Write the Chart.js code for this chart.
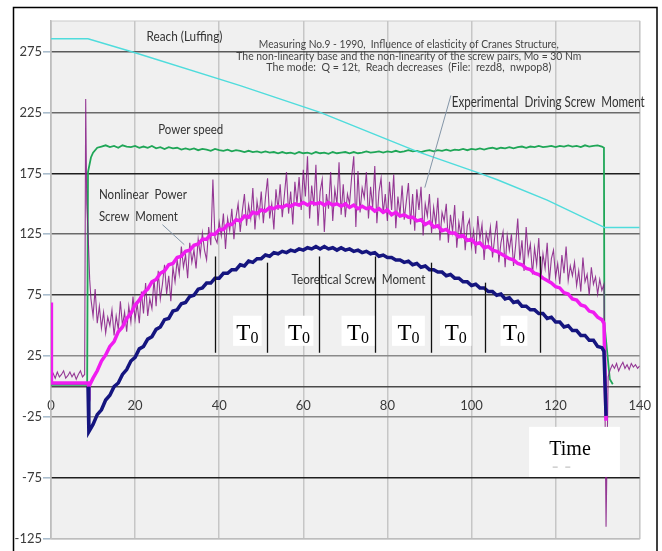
<!DOCTYPE html>
<html>
<head>
<meta charset="utf-8">
<script src="https://cdn.jsdelivr.net/npm/chart.js@4.4.1/dist/chart.umd.min.js"></script>
<style>
  html, body { margin: 0; padding: 0; background: #fff; }
  canvas { display: block; }
</style>
</head>
<body>
<canvas id="c" width="662" height="551"></canvas>
<script>
// Measuring No.9 - 1990 : reach, power speed and screw moments vs time

const xTicks = [0, 20, 40, 60, 80, 100, 120, 140];
const yTicks = [-125, -75, -25, 25, 75, 125, 175, 225, 275];

// Reach (Luffing)
const reachX = [0, 8.8, 20, 45, 64, 87, 102, 106, 118, 131.7, 140];
const reachY = [285.5, 285.5, 274, 247, 225, 193, 175, 170, 153, 130.5, 130.5];

// Power speed
const speedHeadX = [0, 8.6, 8.8, 9.5, 10, 11];
const speedHeadY = [1.5, 1.5, 176, 188, 192, 196];
const speedStart = 12;
const speedMain = [
  197, 198, 196.5, 197.5, 196, 198, 197, 196.5, 197.5, 196,
  197, 196, 197.5, 195.5, 196.5, 195, 196.5, 195.5, 196, 194.5,
  195.5, 194.5, 195.5, 194, 195, 194.5, 193.5, 195, 194, 193.5,
  194.5, 193, 194, 193.5, 192.5, 193.5, 192.5, 193, 192, 193,
  192, 192.5, 191.5, 192.5, 191.5, 192, 191, 192.5, 191.5, 192,
  191, 192.5, 191.5, 192, 191, 192.5, 191.5, 192, 192.5, 191.5,
  192.5, 191.5, 192, 193, 192, 192.5, 193, 192, 193, 192.5,
  193.5, 192.5, 193, 194, 193, 193.5, 192.5, 193.5, 194, 193,
  194, 193.5, 194.5, 193.5, 194.5, 194, 195, 194, 195, 194.5,
  195.5, 194.5, 195.5, 196, 195, 196, 195.5, 196.5, 195.5, 196.5,
  197, 196, 197, 196.5, 197.5, 196.5, 197, 197.5, 196.5, 197.5,
  197, 198, 197, 197.5, 196.5, 198, 197, 197.5, 198, 197,
];
const speedTailX = [131.5, 131.6, 132.9, 133.6];
const speedTailY = [196, 52, 6, 2];

// Experimental Driving Screw Moment
const expBase = [9, 11, 7, 12, 8, 10, 13, 7, 9, 12, 8, 11, 6, 10, 13, 8, 10];
const expSpikeX = [8.25, 8.5, 8.8, 9.2];
const expSpikeY = [236, 150, 128, 88];
const expStart = 9.5;
const expMain = [
  72, 58, 80, 52, 66, 48, 61, 44, 57, 50,
  63, 42, 58, 47, 70, 50, 61, 45, 66, 53,
  74, 55, 68, 52, 78, 60, 85, 58, 72, 64,
  88, 66, 95, 72, 84, 100, 76, 91, 70, 98,
  86, 104, 92, 115, 98, 108, 89, 118, 102, 112,
  97, 121, 108, 126, 112, 104, 131, 116, 170, 122,
  118, 135, 124, 142, 113, 138, 128, 146, 121, 139,
  150, 127, 144, 158, 132, 149, 138, 163, 129, 152,
  140, 160, 134, 155, 171, 138, 150, 129, 162, 145,
  166, 139, 157, 176, 142, 160, 133, 168, 150, 172,
  145, 178, 156, 189, 138, 165, 148, 182, 132, 160,
  170, 127, 158, 146, 176, 136, 162, 150, 184, 141,
  166, 139, 158, 150, 172, 189, 131, 177, 143, 163,
  155, 176, 138, 164, 147, 181, 134, 160, 171, 142,
  158, 136, 168, 145, 174, 130, 156, 141, 165, 137,
  152, 167, 133, 158, 128, 162, 145, 164, 124, 150,
  140, 158, 126, 147, 133, 155, 120, 143, 136, 150,
  118, 141, 127, 149, 114, 135, 124, 144, 112, 132,
  137, 115, 128, 109, 140, 121, 133, 104, 126, 118,
  131, 106, 122, 136, 102, 118, 127, 98, 124, 112,
  125, 99, 116, 138, 104, 120, 95, 131, 108, 117,
  92, 114, 100, 122, 88, 109, 97, 118, 86, 105,
  112, 90, 101, 84, 108, 93, 115, 87, 99, 91,
  102, 83, 95, 78, 106, 86, 92, 75, 98, 84,
  90, 76, 88, 79, 84,
];
const expDropX = [132, 132.5];
const expDropY = [-115, 8];
const expTailStart = 133;
const expTail = [14, 18, 15, 19, 13, 17, 20, 15, 18, 14, 19, 16, 18, 15, 17];

// Nonlinear Power Screw Moment
const nlHeadX = [0, 0.1, 8.8];
const nlHeadY = [69, 3, 3];
const nlStart = 9;
const nlMain = [
  0, 7, 13, 21, 26, 33, 37, 45, 49, 56,
  60, 67, 71, 77, 80, 86, 88, 93, 95, 100,
  101, 106, 107, 111, 112, 116, 117, 121, 121, 125,
  125, 129, 129, 133, 133, 137, 136, 140, 139, 143,
  142, 145, 144, 147, 146, 148, 147, 149, 148, 150,
  149, 151, 149, 151, 150, 151, 149, 151, 149, 150,
  148, 150, 147, 149, 146, 148, 146, 147, 144, 146,
  143, 145, 141, 143, 140, 141, 139, 139, 136, 137,
  133, 135, 131, 132, 128, 129, 126, 126, 123, 124,
  120, 121, 117, 118, 114, 115, 112, 111, 109, 107,
  105, 104, 101, 100, 97, 96, 93, 92, 89, 87,
  85, 82, 81, 77, 76, 72, 71, 67, 66, 62,
  61, 57, 55,
];
const nlTailX = [131.5, 132];
const nlTailY = [52, -28];

// Teoretical Screw Moment
const thHeadX = [8.8];
const thHeadY = [0];
const thStart = 9;
const thMain = [
  -37, -31, -23, -19, -11, -7, 0, 3, 10, 14,
  21, 24, 31, 33, 39, 41, 47, 49, 55, 56,
  62, 63, 68, 69, 74, 75, 80, 81, 85, 85,
  89, 89, 93, 93, 96, 96, 100, 99, 103, 102,
  105, 105, 108, 107, 110, 109, 111, 110, 112, 111,
  113, 112, 114, 113, 115, 113, 115, 113, 114, 112,
  114, 112, 113, 111, 112, 110, 111, 109, 110, 107,
  108, 106, 106, 104, 104, 102, 103, 100, 101, 98,
  99, 96, 96, 94, 94, 91, 92, 89, 89, 86,
  86, 83, 84, 81, 81, 78, 78, 75, 76, 72,
  73, 69, 70, 66, 66, 63, 63, 60, 60, 56,
  57, 53, 53, 49, 50, 46, 46, 42, 42, 38,
  38, 33, 32,
];
const thTailX = [131.5, 132];
const thTailY = [29, -24];

// T0 marks
const t0LineX = [39.0, 51.3, 63.8, 77.1, 90.3, 103.3, 116.3];
const t0LineTop = [106.8, 101.7, 106.8, 106.8, 101.7, 85.3, 106.8];
const t0LineBottom = 27.8;
const t0BoxFrom = [43.3, 55.6, 69.1, 81.1, 92.5, 106.9];
const t0BoxTo = [50.1, 62.4, 76.9, 88.9, 100.0, 113.3];

const pts = (xs, ys) => xs.map((x, i) => ({ x, y: ys[i] }));
const stepPts = (x0, dx, ys) => ys.map((y, i) => ({ x: x0 + i * dx, y }));

const reachData = pts(reachX, reachY);
const speedData = [...pts(speedHeadX, speedHeadY), ...stepPts(speedStart, 1, speedMain), ...pts(speedTailX, speedTailY)];
const expData = [
  ...stepPts(0, 0.5, expBase),
  ...pts(expSpikeX, expSpikeY),
  ...stepPts(expStart, 0.5, expMain),
  ...pts(expDropX, expDropY),
  ...stepPts(expTailStart, 0.5, expTail),
];
const nlData = [...pts(nlHeadX, nlHeadY), ...stepPts(nlStart, 1, nlMain), ...pts(nlTailX, nlTailY)];
const thData = [...pts(thHeadX, thHeadY), ...stepPts(thStart, 1, thMain), ...pts(thTailX, thTailY)];

const gridTone = {
  275: '#5a5a5a', 225: '#6a6a6a', 175: '#1e1e1e', 125: '#6a6a6a', 75: '#3a3a3a',
  25: '#8a8a8a', '-25': '#8a8a8a', '-75': '#1e1e1e', '-125': '#bdbdbd',
};

const SANS = '"Lato", "Liberation Sans", sans-serif';
const SERIF = '"Liberation Serif", "DejaVu Serif", serif';

const notes = [
  { text: 'Reach (Luffing)', x: 22.7, y: 284, size: 14, w: 76 },
  { text: 'Measuring No.9 - 1990,  Influence of elasticity of Cranes Structure,', x: 85.1, y: 277.5, size: 11, w: 300, align: 'center', color: '#444' },
  { text: 'The non-linearity base and the non-linearity of the screw pairs, Mo = 30 Nm', x: 85.1, y: 268.3, size: 11, w: 345, align: 'center', color: '#444' },
  { text: 'The mode:  Q = 12t,  Reach decreases  (File:  rezd8,  nwpop8)', x: 85.1, y: 259.3, size: 11, w: 285, align: 'center', color: '#444' },
  { text: 'Experimental  Driving Screw  Moment', x: 95.3, y: 229.8, size: 16, w: 193 },
  { text: 'Power speed', x: 25.5, y: 207.6, size: 14, w: 65 },
  { text: 'Nonlinear  Power', x: 11.4, y: 154.3, size: 14, w: 88 },
  { text: 'Screw  Moment', x: 11.4, y: 136.2, size: 14, w: 79 },
  { text: 'Teoretical Screw  Moment', x: 57.2, y: 84.4, size: 14, w: 134 },
];
const leaders = [
  [26.5, 132.9, 31.7, 116.5],
  [95.1, 238.9, 88.9, 163.3],
];

const backdrop = {
  id: 'backdrop',
  beforeDraw(chart) {
    const { ctx, chartArea: a, width, height } = chart;
    ctx.save();
    ctx.fillStyle = '#fff';
    ctx.fillRect(0, 0, width, height);
    ctx.strokeStyle = '#000';
    ctx.lineWidth = 1.5;
    ctx.strokeRect(13.5, 7.5, 643.5, 600);
    ctx.fillStyle = '#f0f0f0';
    ctx.fillRect(a.left, a.top, a.right - a.left, a.bottom - a.top);
    ctx.strokeStyle = '#c9c9c9';
    ctx.lineWidth = 1;
    ctx.strokeRect(a.left, a.top, a.right - a.left, a.bottom - a.top);
    ctx.restore();
  },
};

const annotate = {
  id: 'annotate',
  afterDatasetsDraw(chart) {
    const { ctx, scales: { x, y } } = chart;
    const px = v => x.getPixelForValue(v);
    const py = v => y.getPixelForValue(v);
    ctx.save();

    ctx.strokeStyle = '#8496a8';
    ctx.lineWidth = 1;
    leaders.forEach(([x1, y1, x2, y2]) => {
      ctx.beginPath();
      ctx.moveTo(px(x1), py(y1));
      ctx.lineTo(px(x2), py(y2));
      ctx.stroke();
    });

    ctx.textBaseline = 'alphabetic';
    notes.forEach(n => {
      ctx.font = n.size + 'px ' + SANS;
      ctx.fillStyle = n.color || '#333';
      ctx.textAlign = n.align || 'left';
      ctx.fillText(n.text, px(n.x), py(n.y), n.w);
    });

    ctx.strokeStyle = '#111';
    ctx.lineWidth = 1.3;
    t0LineX.forEach((v, i) => {
      ctx.beginPath();
      ctx.moveTo(Math.round(px(v)) + 0.5, py(t0LineTop[i]));
      ctx.lineTo(Math.round(px(v)) + 0.5, py(t0LineBottom));
      ctx.stroke();
    });

    t0BoxFrom.forEach((v, i) => {
      const l = px(v), r = px(t0BoxTo[i]);
      const t = py(58.2), b = py(33.5);
      ctx.fillStyle = '#fff';
      ctx.fillRect(l, t, r - l, b - t);
      ctx.fillStyle = '#000';
      ctx.textAlign = 'left';
      ctx.font = '23px ' + SERIF;
      const tw = ctx.measureText('T').width;
      ctx.font = '16px ' + SERIF;
      const zw = ctx.measureText('0').width;
      const sx = (l + r) / 2 - (tw + zw) / 2;
      ctx.font = '23px ' + SERIF;
      ctx.fillText('T', sx, py(38.4));
      ctx.font = '16px ' + SERIF;
      ctx.fillText('0', sx + tw, py(35.9));
    });

    const tl = px(113.7), tr = px(135.3), tt = py(-33), tb = py(-74.1);
    ctx.fillStyle = '#fff';
    ctx.fillRect(tl, tt, tr - tl, tb - tt);
    ctx.fillStyle = '#000';
    ctx.font = '20px ' + SERIF;
    ctx.fillText('Time', px(118.5), py(-56), 45);
    ctx.strokeStyle = '#c4c4c4';
    ctx.beginPath();
    ctx.moveTo(px(119.3), py(-66)); ctx.lineTo(px(120.5), py(-66));
    ctx.moveTo(px(122.3), py(-66)); ctx.lineTo(px(123.5), py(-66));
    ctx.stroke();

    ctx.restore();
  },
};

new Chart(document.getElementById('c'), {
  type: 'line',
  data: {
    datasets: [
      { data: reachData, borderColor: '#4fdcdc', borderWidth: 1.5, order: 1 },
      { data: thData, borderColor: '#15157f', borderWidth: 3.5, order: 2 },
      { data: nlData, borderColor: '#f01cf0', borderWidth: 3.5, order: 3 },
      { data: expData, borderColor: 'rgba(132, 24, 132, 0.85)', borderWidth: 1.1, order: 4 },
      { data: speedData, borderColor: '#1fa657', borderWidth: 1.8, order: 5 },
    ],
  },
  options: {
    responsive: false,
    animation: false,
    events: [],
    layout: { padding: { left: 0, right: 19, top: 21, bottom: 12 } },
    elements: { point: { radius: 0 }, line: { tension: 0 } },
    plugins: { legend: { display: false }, tooltip: { enabled: false } },
    scales: {
      x: {
        type: 'linear',
        position: { y: 0 },
        min: 0,
        max: 140,
        afterBuildTicks: s => { s.ticks = xTicks.map(value => ({ value })); },
        ticks: { font: { family: SANS, size: 13 }, color: '#3a3a3a', padding: 11, maxRotation: 0 },
        grid: { color: '#c6c6c6', lineWidth: 1.5, drawTicks: false },
        border: { color: '#4a4a4a', width: 1.6 },
      },
      y: {
        min: -125,
        max: 300,
        afterBuildTicks: s => { s.ticks = yTicks.map(value => ({ value })); },
        afterFit: s => { s.width = 51; },
        ticks: { font: { family: SANS, size: 13 }, color: '#3a3a3a', padding: 1 },
        grid: {
          color: c => gridTone[c.tick.value] || '#999',
          lineWidth: 1.6,
          tickLength: 8,
          tickColor: '#a9bccc',
        },
        border: { color: '#bdbdbd', width: 1.5 },
      },
    },
  },
  plugins: [backdrop, annotate],
});
</script>
</body>
</html>
